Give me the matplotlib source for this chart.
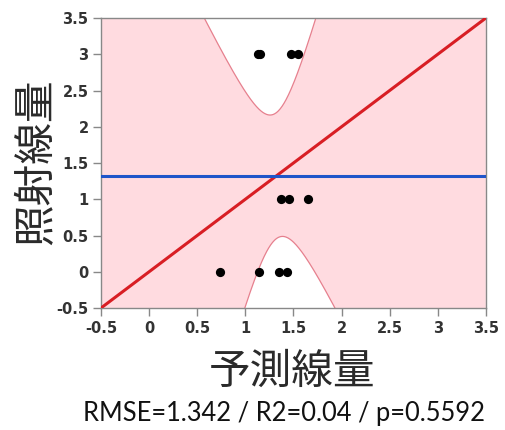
import numpy as np
import matplotlib
matplotlib.use('Agg')
import matplotlib.pyplot as plt

# predicted dose (x) vs. delivered dose (y)
pred = [1.13, 1.15, 1.47, 1.55, 1.37, 1.45, 1.65, 0.74, 1.14, 1.35, 1.43]
actual = [3, 3, 3, 3, 1, 1, 1, 0, 0, 0, 0]

# fit summary
y_mean = 1.325      # blue mean line
x_center = 1.322    # centre of the confidence curves
conf_slope = 3.73   # t*s/sqrt(Sxx)
conf_width = 0.233  # sqrt(Sxx/n)

ticks = [-0.5, 0, 0.5, 1, 1.5, 2, 2.5, 3, 3.5]
tick_labels = ['-0.5', '0', '0.5', '1', '1.5', '2', '2.5', '3', '3.5']
stats_text = 'RMSE=1.342 / R2=0.04 / p=0.5592'

cjk = ['Noto Sans CJK JP', 'DejaVu Sans']

fig = plt.figure(figsize=(5.05, 4.3), dpi=100)
ax = fig.add_axes([0.2, 0.2837, 0.762, 0.6743])

xs = np.linspace(-0.5, 3.5, 600)
u = xs - x_center
band = conf_slope * np.sqrt(conf_width**2 + u**2)
upper = y_mean + u + band
lower = y_mean + u - band
ax.fill_between(xs, lower, upper, color='#ffdbe0', lw=0, zorder=1)
ax.plot(xs, upper, color='#e6808e', lw=0.9, zorder=2)
ax.plot(xs, lower, color='#e6808e', lw=0.9, zorder=2)

ax.plot(ticks, ticks, color='#d81e24', lw=2.2, zorder=3)
ax.axhline(y_mean, color='#1f55c9', lw=2.2, zorder=3)
ax.scatter(pred, actual, s=44, color='black', zorder=4, linewidths=0)

ax.set_xlim(-0.5, 3.5)
ax.set_ylim(-0.5, 3.5)
ax.set_xticks(ticks)
ax.set_yticks(ticks)
ax.set_xticklabels(tick_labels)
ax.set_yticklabels(tick_labels)
for lab in ax.get_xticklabels() + ax.get_yticklabels():
    lab.set_fontweight('bold')
    lab.set_fontsize(10.5)
    lab.set_color('#333333')
ax.tick_params(direction='out', length=6, width=1, color='#888888', pad=3)
for sp in ax.spines.values():
    sp.set_color('#888888')
    sp.set_linewidth(1)

fig.text(292 / 505, 1 - 372 / 430, '予測線量', family=cjk, fontsize=30,
         color='#2a2a2a', ha='center', va='center')
fig.text(37 / 505, 1 - 162 / 430, '照射線量', family=cjk, fontsize=30,
         color='#2a2a2a', ha='center', va='center', rotation=90)
fig.text(284 / 505, 1 - 413 / 430, stats_text, family=['Lato', 'DejaVu Sans'],
         fontsize=18.4, color='#111111', ha='center', va='center')

fig.savefig('out.png', dpi=100)
